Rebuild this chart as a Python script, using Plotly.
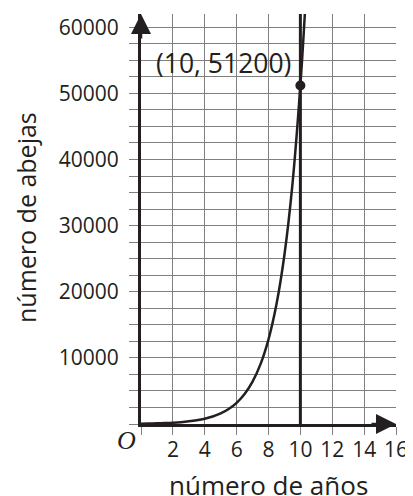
import plotly.graph_objects as go

# ---- data ----
years = [0, 0.5, 1, 1.5, 2, 2.5, 3, 3.5, 4, 4.5, 5, 5.5, 6, 6.5, 7, 7.5,
         8, 8.5, 9, 9.5, 10, 10.28]
bees = [50, 71, 100, 141, 200, 283, 400, 566, 800, 1131, 1600, 2263, 3200,
        4525, 6400, 9051, 12800, 18102, 25600, 36204, 51200, 62000]

marked_year = 10
marked_bees = 51200
marked_label = "(10, 51200)"

x_tick_vals = [0, 2, 4, 6, 8, 10, 12, 14, 16]
x_tick_text = ["", "2", "4", "6", "8", "10", "12", "14", "16"]
y_tick_vals = list(range(0, 60001, 2500))
y_tick_text = [str(v) if (v % 10000 == 0 and v > 0) else "" for v in y_tick_vals]

x_range = [0, 16]
y_range = [0, 62000]

x_title = "número de años"
y_title = "número de abejas"

INK = "#231f20"
GRID = "#808080"
FONT = "Open Sans"

fig = go.Figure()

# vertical line at x = 10
fig.add_trace(go.Scatter(
    x=[marked_year, marked_year], y=[y_range[0], y_range[1]],
    mode="lines", line=dict(color=INK, width=3), hoverinfo="skip",
    showlegend=False))

# exponential curve
fig.add_trace(go.Scatter(
    x=years, y=bees, mode="lines", line=dict(color=INK, width=2.5, shape="spline"),
    showlegend=False, cliponaxis=True))

# marked point
fig.add_trace(go.Scatter(
    x=[marked_year], y=[marked_bees], mode="markers",
    marker=dict(color=INK, size=10), showlegend=False))

# axis extensions past the origin
fig.add_shape(type="line", xref="x", yref="y", xsizemode="pixel", xanchor=0,
              x0=-17, x1=0, y0=0, y1=0, line=dict(color=INK, width=3))
fig.add_shape(type="line", xref="x", yref="y", ysizemode="pixel", yanchor=0,
              y0=-17, y1=0, x0=0, x1=0, line=dict(color=INK, width=3))

annotations = [
    # arrowheads
    dict(x=x_range[1], y=0, xref="x", yref="y", ax=-26, ay=0, text="",
         showarrow=True, arrowhead=2, arrowsize=1.6, arrowwidth=2.5,
         arrowcolor=INK),
    dict(x=0, y=y_range[1], xref="x", yref="y", ax=0, ay=26, text="",
         showarrow=True, arrowhead=2, arrowsize=1.6, arrowwidth=2.5,
         arrowcolor=INK),
    # point label
    dict(x=marked_year, y=marked_bees, xref="x", yref="y", text=marked_label,
         showarrow=False, xanchor="right", yanchor="middle", xshift=-7,
         yshift=22, font=dict(family=FONT, size=26.5, color=INK)),
    # origin
    dict(x=0, y=0, xref="x", yref="y", text="<i>O</i>", showarrow=False,
         xanchor="center", yanchor="middle", xshift=-15, yshift=-16,
         font=dict(family="Liberation Serif", size=26, color=INK)),
    # axis titles
    dict(x=0.5, y=0, xref="paper", yref="paper", text=x_title, showarrow=False,
         xanchor="center", yanchor="middle", yshift=-61,
         font=dict(family=FONT, size=26, color=INK)),
    dict(x=0, y=0.5, xref="paper", yref="paper", text=y_title, showarrow=False,
         textangle=-90, xanchor="center", yanchor="middle", xshift=-115,
         yshift=1, font=dict(family=FONT, size=25, color=INK)),
]

# the page body has an 8 px margin, so the figure is sized to fit the window
fig.update_layout(
    width=405, height=488,
    margin=dict(l=133, r=17, t=6, b=72),
    paper_bgcolor="white", plot_bgcolor="white",
    font=dict(family=FONT, size=21, color=INK),
    annotations=annotations,
    xaxis=dict(range=x_range, tickmode="array", tickvals=x_tick_vals,
               ticktext=x_tick_text, showgrid=True, gridcolor=GRID,
               gridwidth=1.3, ticks="outside", ticklen=8, tickwidth=1.3,
               tickcolor=GRID, showline=True, linecolor=INK, linewidth=3,
               zeroline=False, ticklabelstandoff=-3,
               tickfont=dict(size=21, color=INK),
               automargin=False, fixedrange=True),
    yaxis=dict(range=y_range, tickmode="array", tickvals=y_tick_vals,
               ticktext=y_tick_text, showgrid=True, gridcolor=GRID,
               gridwidth=1.3, ticks="outside", ticklen=9, tickwidth=1.3,
               tickcolor=GRID, showline=True, linecolor=INK, linewidth=3,
               zeroline=False, ticklabelstandoff=6,
               tickfont=dict(size=21, color=INK), automargin=False,
               fixedrange=True),
)

fig.write_html("out.html")
